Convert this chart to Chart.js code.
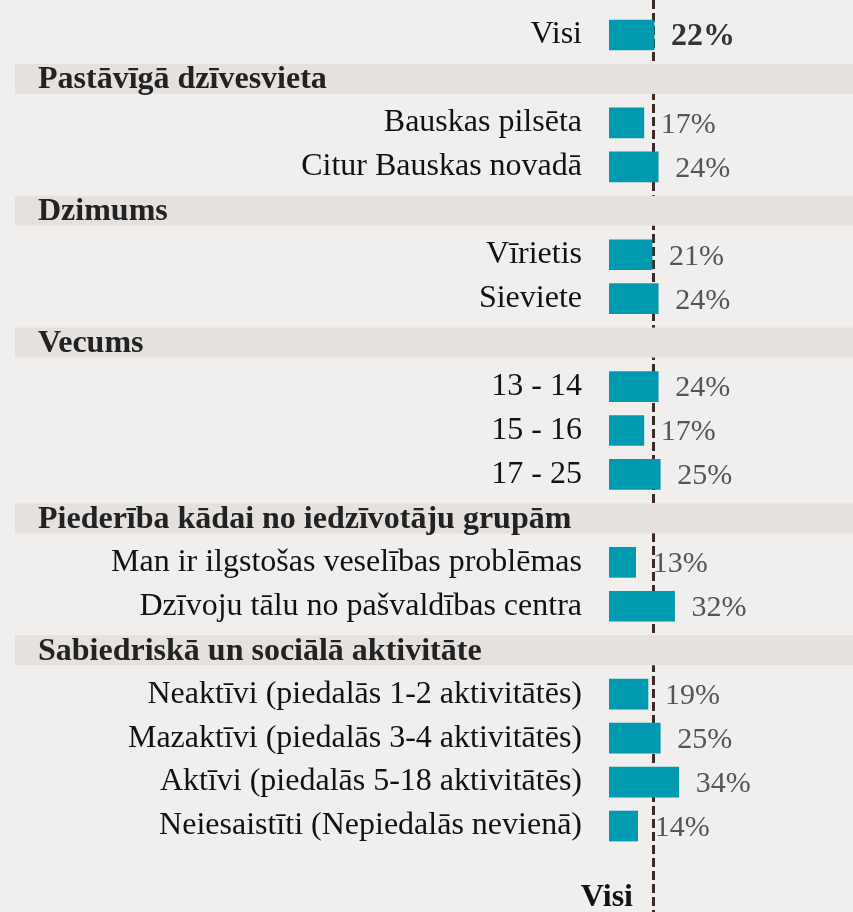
<!DOCTYPE html>
<html>
<head>
<meta charset="utf-8">
<script src="https://cdn.jsdelivr.net/npm/chart.js@4"></script>
<style>
  body { margin: 0; background: #f0efed; }
  #wrap { width: 853px; height: 912px; }
</style>
</head>
<body>
<div id="wrap"><canvas id="chart"></canvas></div>
<script>
// rows top to bottom; headers have no value
const labels = [
  'Visi',
  'Pastāvīgā dzīvesvieta',
  'Bauskas pilsēta',
  'Citur Bauskas novadā',
  'Dzimums',
  'Vīrietis',
  'Sieviete',
  'Vecums',
  '13 - 14',
  '15 - 16',
  '17 - 25',
  'Piederība kādai no iedzīvotāju grupām',
  'Man ir ilgstošas veselības problēmas',
  'Dzīvoju tālu no pašvaldības centra',
  'Sabiedriskā un sociālā aktivitāte',
  'Neaktīvi (piedalās 1-2 aktivitātēs)',
  'Mazaktīvi (piedalās 3-4 aktivitātēs)',
  'Aktīvi (piedalās 5-18 aktivitātēs)',
  'Neiesaistīti (Nepiedalās nevienā)'
];
const isHeader = [false, true, false, false, true, false, false, true, false, false, false, true, false, false, true, false, false, false, false];
const values = [22, null, 17, 24, null, 21, 24, null, 24, 17, 25, null, 13, 32, null, 19, 25, 34, 14];
const totalValue = 22;

const FONT = '"Liberation Serif", "Times New Roman", serif';

const decor = {
  id: 'decor',
  beforeDatasetsDraw(chart) {
    const { ctx } = chart;
    const x = chart.scales.x, y = chart.scales.y;
    ctx.save();
    // reference line
    const lx = Math.round(x.getPixelForValue(totalValue)) - 0.5;
    ctx.strokeStyle = '#3d2a26';
    ctx.lineWidth = 3;
    ctx.setLineDash([9, 4]);
    ctx.beginPath();
    ctx.moveTo(lx, 0);
    ctx.lineTo(lx, chart.height);
    ctx.stroke();
    ctx.setLineDash([]);
    // header bands
    labels.forEach((l, i) => {
      if (!isHeader[i]) return;
      const cy = y.getPixelForValue(i);
      ctx.fillStyle = '#e4e1de';
      ctx.fillRect(15, cy - 15, chart.width - 15, 30);
      ctx.fillStyle = '#222';
      ctx.font = 'bold 32px ' + FONT;
      ctx.textAlign = 'left';
      ctx.textBaseline = 'middle';
      ctx.fillText(l, 38, cy + 1);
    });
    ctx.restore();
  },
  afterDatasetsDraw(chart) {
    const { ctx } = chart;
    const x = chart.scales.x, y = chart.scales.y;
    ctx.save();
    ctx.textAlign = 'left';
    ctx.textBaseline = 'middle';
    values.forEach((v, i) => {
      if (v == null) return;
      const cy = y.getPixelForValue(i);
      if (i === 0) {
        ctx.font = 'bold 32px ' + FONT;
        ctx.fillStyle = '#333';
      } else {
        ctx.font = '30px ' + FONT;
        ctx.fillStyle = '#555';
      }
      ctx.fillText(v + '%', x.getPixelForValue(v) + 17, cy + 2);
    });
    // bottom label for the reference line
    ctx.font = 'bold 32px ' + FONT;
    ctx.fillStyle = '#111';
    ctx.textAlign = 'right';
    ctx.fillText('Visi', 633, 898);
    ctx.restore();
  }
};

new Chart(document.getElementById('chart'), {
  type: 'bar',
  data: {
    labels: labels,
    datasets: [{
      data: values,
      backgroundColor: '#009ab0',
      barThickness: 30
    }]
  },
  options: {
    indexAxis: 'y',
    responsive: true,
    maintainAspectRatio: false,
    animation: false,
    layout: { padding: { top: 13, bottom: 64, right: 39 } },
    plugins: { legend: { display: false }, tooltip: { enabled: false } },
    scales: {
      x: { display: false, min: 0, max: 100 },
      y: {
        grid: { display: false, drawTicks: false },
        border: { display: false },
        afterFit(scale) {
          scale.width = 609;
          scale.paddingTop = 0;
          scale.paddingBottom = 0;
        },
        ticks: {
          padding: 27,
          color: '#111',
          font: { family: FONT, size: 32 },
          callback(v, i) { return isHeader[i] ? '' : labels[i]; }
        }
      }
    }
  },
  plugins: [decor]
});
</script>
</body>
</html>
